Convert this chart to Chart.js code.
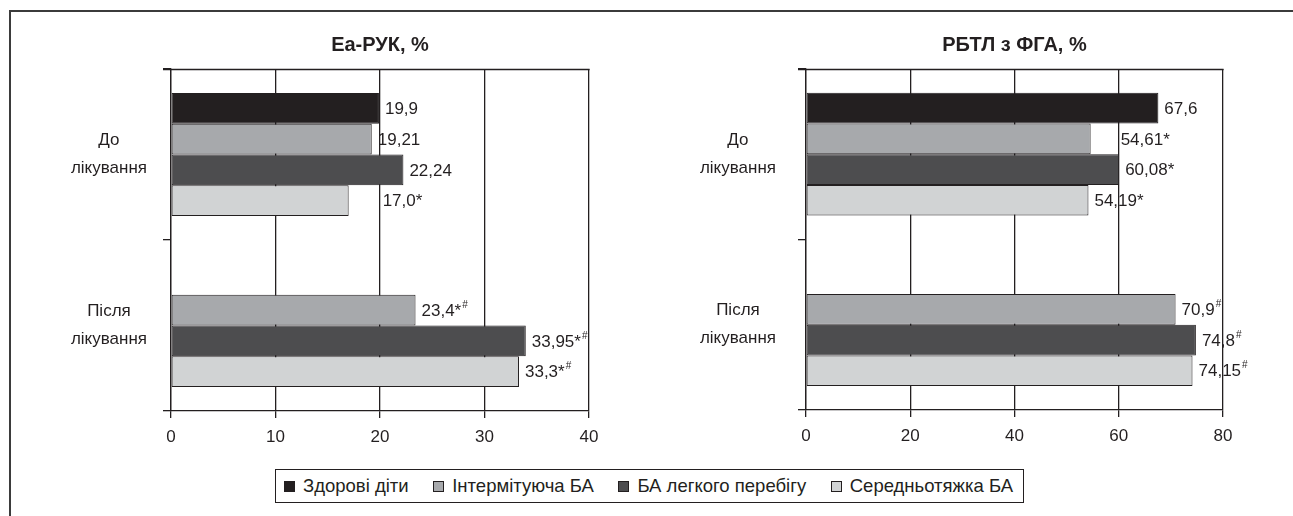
<!DOCTYPE html>
<html>
<head>
<meta charset="utf-8">
<script src="https://cdn.jsdelivr.net/npm/chart.js@4"></script>
<style>
  body { margin: 0; width: 1293px; height: 516px; overflow: hidden; position: relative; background: #fff;
         font-family: 'Liberation Sans', Arial, sans-serif; color: #231f20; }
  #frame { position: absolute; left: 9px; top: 10px; width: 1300px; height: 520px;
           border-left: 2px solid #3b3b3b; border-top: 2px solid #3b3b3b; }
  #wrap1 { position: absolute; left: 12px; top: 12px; }
  #wrap2 { position: absolute; left: 645px; top: 12px; }
  #legend { position: absolute; left: 275px; top: 469px; width: 749px; height: 34px; box-sizing: border-box;
            border: 1px solid #231f20; display: flex; align-items: center; justify-content: space-between;
            padding: 0 10px 0 8px; font-size: 18.5px; background: #fff; }
  #legend span.item { display: flex; align-items: center; }
  #legend span.sw { width: 9px; height: 9px; border: 1px solid #231f20; margin-right: 8px; display: inline-block; }
</style>
</head>
<body>
<div id="frame"></div>
<div id="wrap1"><canvas id="eaRuk" width="628" height="448"></canvas></div>
<div id="wrap2"><canvas id="rbtl" width="640" height="448"></canvas></div>
<div id="legend"></div>
<script>
// категорії та серії
const categories = [['До', 'лікування'], ['Після', 'лікування']];
const seriesNames = ['Здорові діти', 'Інтермітуюча БА', 'БА легкого перебігу', 'Середньотяжка БА'];
const seriesColors = ['#231f20', '#a7a9ac', '#4d4d4f', '#d1d3d4'];

// Ea-РУК, %
const eaRukHealthy = [19.9, null];
const eaRukIntermittent = [19.21, 23.4];
const eaRukMild = [22.24, 33.95];
const eaRukModerate = [17.0, 33.3];
const eaRukLabels = [['19,9', null], ['19,21', '23,4*#'], ['22,24', '33,95*#'], ['17,0*', '33,3*#']];
const eaRukTicks = [0, 10, 20, 30, 40];

// РБТЛ з ФГА, %
const rbtlHealthy = [67.6, null];
const rbtlIntermittent = [54.61, 70.9];
const rbtlMild = [60.08, 74.8];
const rbtlModerate = [54.19, 74.15];
const rbtlLabels = [['67,6', null], ['54,61*', '70,9#'], ['60,08*', '74,8#'], ['54,19*', '74,15#']];
const rbtlTicks = [0, 20, 40, 60, 80];

const ink = '#231f20';
const FONT = "'Liberation Sans', Arial, sans-serif";

const titlePlugin = {
  id: 'centerTitle',
  afterDraw(chart, args, opts) {
    const { ctx, chartArea } = chart;
    ctx.save();
    ctx.font = 'bold 20px ' + FONT;
    ctx.fillStyle = ink;
    ctx.textAlign = 'center';
    ctx.textBaseline = 'middle';
    ctx.fillText(opts.text, (chartArea.left + chartArea.right) / 2, opts.y);
    ctx.restore();
  }
};

// верхня лінія рамки області побудови
const topLine = {
  id: 'topLine',
  afterDraw(chart) {
    const { ctx, chartArea } = chart;
    const y = Math.round(chartArea.top) + 0.5;
    ctx.save();
    ctx.strokeStyle = ink;
    ctx.lineWidth = 1.4;
    ctx.beginPath();
    ctx.moveTo(chartArea.left - 8, y);
    ctx.lineTo(chartArea.right + 0.6, y);
    ctx.stroke();
    ctx.restore();
  }
};

const valueLabels = {
  id: 'valueLabels',
  afterDatasetsDraw(chart, args, opts) {
    const { ctx } = chart;
    ctx.save();
    ctx.fillStyle = ink;
    ctx.textAlign = 'left';
    ctx.textBaseline = 'middle';
    chart.data.datasets.forEach((ds, di) => {
      chart.getDatasetMeta(di).data.forEach((bar, i) => {
        const txt = ds.valueLabels[i];
        if (txt == null || ds.data[i] == null) return;
        const x = bar.x + 6 + ((opts.nudge || {})[di + ':' + i] || 0);
        const main = txt.replace(/#$/, '');
        ctx.font = '17px ' + FONT;
        ctx.fillText(main, x, bar.y + 1);
        if (txt.endsWith('#')) {
          const w = ctx.measureText(main).width;
          ctx.font = '10px ' + FONT;
          ctx.fillText('#', x + w + 1, bar.y - 5);
        }
      });
    });
    ctx.restore();
  }
};

function makeChart(id, series, labels, ticks, title, axisWidth, padRight, tickPad, nudge) {
  const lo = ticks[0], hi = ticks[ticks.length - 1];
  return new Chart(document.getElementById(id), {
    type: 'bar',
    data: {
      labels: categories,
      datasets: series.map((d, k) => ({
        label: seriesNames[k],
        data: d,
        valueLabels: labels[k],
        backgroundColor: seriesColors[k],
        borderColor: ink,
        borderWidth: 1,
        borderSkipped: false,
        barPercentage: 1,
        categoryPercentage: 0.72
      }))
    },
    options: {
      indexAxis: 'y',
      responsive: false,
      animation: false,
      layout: { padding: { top: 57, right: padRight, left: 0, bottom: 0 } },
      scales: {
        x: {
          min: lo,
          max: hi,
          afterBuildTicks: s => { s.ticks = ticks.map(v => ({ value: v })); },
          grid: { color: ink, lineWidth: 1.3, tickLength: 7, tickColor: ink },
          border: { color: ink, width: 1.3 },
          ticks: { color: ink, padding: 9, font: { family: FONT, size: 17 } },
          afterFit: s => { s.height = 49; }
        },
        y: {
          grid: {
            offset: true,
            drawOnChartArea: false,
            tickColor: ink,
            lineWidth: 1.3,
            tickLength: 8
          },
          border: { color: ink, width: 1.3 },
          ticks: {
            crossAlign: 'center',
            padding: tickPad,
            color: ink,
            font: { family: FONT, size: 17, lineHeight: 1.65 }
          },
          afterFit: s => { s.width = axisWidth; }
        }
      },
      plugins: {
        legend: { display: false },
        tooltip: { enabled: false },
        centerTitle: { text: title, y: 33 },
        valueLabels: { nudge: nudge }
      }
    },
    plugins: [titlePlugin, topLine, valueLabels]
  });
}

makeChart('eaRuk', [eaRukHealthy, eaRukIntermittent, eaRukMild, eaRukModerate], eaRukLabels, eaRukTicks,
  'Ea-РУК, %', 159, 51, 16, { '3:0': 28 });
makeChart('rbtl', [rbtlHealthy, rbtlIntermittent, rbtlMild, rbtlModerate], rbtlLabels, rbtlTicks,
  'РБТЛ з ФГА, %', 161, 62, 22, { '1:0': 24 });

// спільна легенда
const legend = document.getElementById('legend');
seriesNames.forEach((name, k) => {
  const item = document.createElement('span');
  item.className = 'item';
  const sw = document.createElement('span');
  sw.className = 'sw';
  sw.style.background = seriesColors[k];
  item.appendChild(sw);
  item.appendChild(document.createTextNode(name));
  legend.appendChild(item);
});
</script>
</body>
</html>
